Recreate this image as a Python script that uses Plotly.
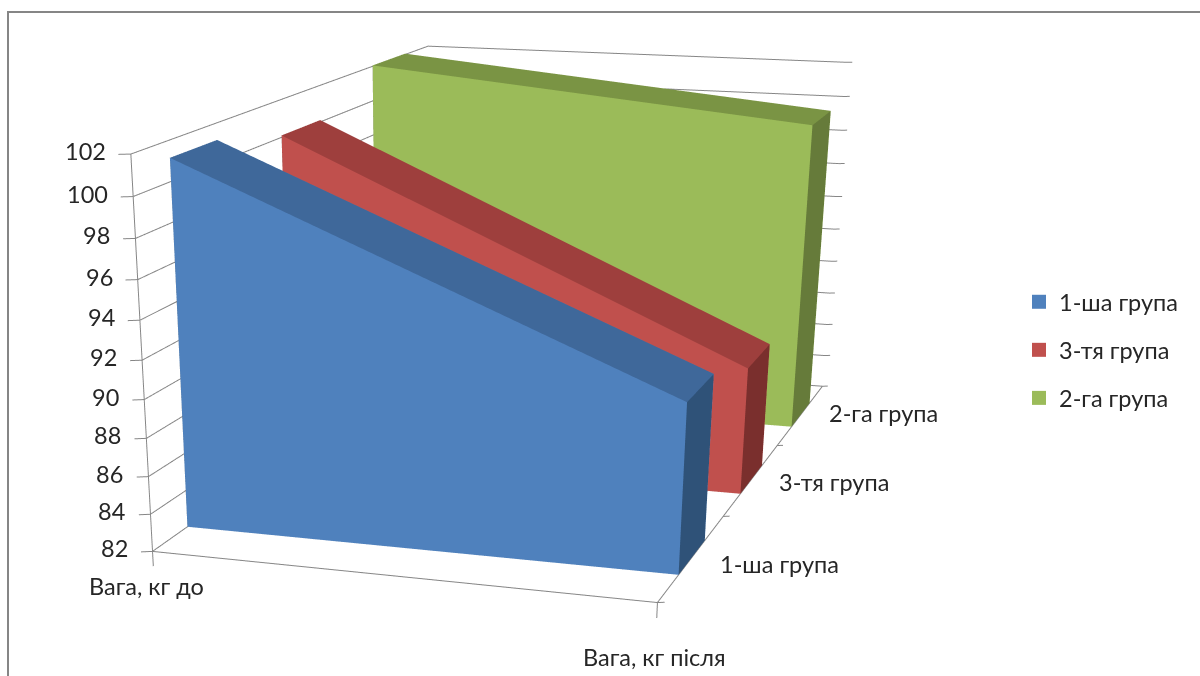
import plotly.graph_objects as go

# Body weight of three groups, before and after
groups = ["1-ша група", "3-тя група", "2-га група"]
categories = ["Вага, кг до", "Вага, кг після"]
weight_before = [101.15, 100.1, 102.05]
weight_after = [90.85, 89.05, 99.75]
z_ticks = list(range(82, 104, 2))

# Front, top and side shades of each group
shades = [
    ("#4F81BD", "#3F689A", "#2F5278"),
    ("#C0504D", "#9E3F3D", "#7A2F2D"),
    ("#9BBB59", "#7A9444", "#667B3A"),
]
AXIS_COLOR = "#868686"
FONT_SIZE = 23.5

# The tall page gives the narrow field of view; only its top part is on screen
PAGE_W, PAGE_H = 1200, 2028
SCENE_W = 860

fig = go.Figure()


def add_lines(xs, ys, zs):
    fig.add_trace(go.Scatter3d(x=xs, y=ys, z=zs, mode="lines",
                               line=dict(color=AXIS_COLOR, width=2),
                               showlegend=False, hoverinfo="skip"))


# Gridlines on the two walls, with their tick marks
gx, gy, gz = [], [], []
for z in z_ticks:
    gx += [-.02, 0, 0, 1, 1.012, None]
    gy += [-.017, 0, 3, 3, 3.01, None]
    gz += [z, z, z, z, z, None]
add_lines(gx, gy, gz)

# Axis lines
add_lines([0, 0, None, 1, 1, None, 0, 1],
          [0, 0, None, 0, 3, None, 0, 0],
          [82, 102, None, 82, 82, None, 82, 82])

# Depth-axis and category-axis tick marks
tx, ty, tz = [], [], []
for k in range(4):
    tx += [1, 1.012, None]
    ty += [k, k + .01, None]
    tz += [82, 82, None]
for xv in (0, 1):
    tx += [xv, xv, None]
    ty += [0, 0, None]
    tz += [82, 81.2, None]
add_lines(tx, ty, tz)

# One solid slab per group, with a swatch-only trace for its legend entry
triangles = [(0, 1, 2), (0, 2, 3), (4, 5, 6), (4, 6, 7), (3, 2, 6), (3, 6, 7),
             (1, 5, 6), (1, 6, 2), (0, 4, 7), (0, 7, 3), (0, 1, 5), (0, 5, 4)]
for n, name in enumerate(groups):
    front, back = n + .3, n + .7
    a, b = weight_before[n], weight_after[n]
    front_c, top_c, side_c = shades[n]
    fig.add_trace(go.Mesh3d(
        x=[0, 1, 1, 0, 0, 1, 1, 0],
        y=[front] * 4 + [back] * 4,
        z=[82, 82, b, a, 82, 82, b, a],
        i=[t[0] for t in triangles],
        j=[t[1] for t in triangles],
        k=[t[2] for t in triangles],
        facecolor=[front_c] * 4 + [top_c] * 2 + [side_c] * 6,
        flatshading=True,
        lighting=dict(ambient=1, diffuse=0, specular=0, fresnel=0),
        showlegend=False, hoverinfo="skip"))
    fig.add_trace(go.Scatter3d(x=[None], y=[None], z=[None], mode="markers",
                               name=name, legendgroup=name,
                               marker=dict(symbol="square", size=14, color=front_c)))

# Axis labels anchored to the data
labels = []
for z in z_ticks:
    labels.append(dict(x=0, y=0, z=z, text=str(z), showarrow=False,
                       xanchor="right", xshift=-23, yshift=3))
for n, name in enumerate(groups):
    labels.append(dict(x=1, y=n + .5, z=82, text=name, showarrow=False,
                       xanchor="left", xshift=26, yshift=[-7, -3, 2][n]))
labels.append(dict(x=0, y=0, z=82, text=categories[0], showarrow=False, yshift=-35, xshift=-6))
labels.append(dict(x=1, y=0, z=82, text=categories[1], showarrow=False, yshift=-54, xshift=-3))
for item in labels:
    item["font"] = dict(size=FONT_SIZE)

hidden = dict(visible=False)
fig.update_layout(
    width=PAGE_W, height=PAGE_H, autosize=False,
    margin=dict(l=0, r=0, t=0, b=0), paper_bgcolor="white",
    font=dict(family="Lato", size=FONT_SIZE, color="#262626"),
    legend=dict(x=1019 / PAGE_W, xanchor="left", y=1 - 280 / PAGE_H, yanchor="top",
                bgcolor="rgba(0,0,0,0)", tracegroupgap=14.5),
    shapes=[dict(type="rect", xref="paper", yref="paper",
                 x0=8 / PAGE_W, x1=(PAGE_W + 20) / PAGE_W, y0=1 - 12 / PAGE_H, y1=-.1,
                 line=dict(color=AXIS_COLOR, width=2))],
    scene=dict(
        domain=dict(x=[0, SCENE_W / PAGE_W], y=[0, 1]),
        aspectmode="manual",
        aspectratio=dict(x=1, y=1.7178, z=0.7996),
        camera=dict(eye=dict(x=1.3045, y=-4.6075, z=0.9615),
                    center=dict(x=0.1201, y=-0.9703, z=-1.0636),
                    up=dict(x=0, y=0, z=1),
                    projection=dict(type="perspective")),
        xaxis=dict(hidden, range=[-.05, 1.05]),
        yaxis=dict(hidden, range=[-.15, 3.15]),
        zaxis=dict(hidden, range=[80, 104]),
        annotations=labels))

fig.write_html("out.html", post_script=(
    "document.documentElement.style.overflow='hidden';"
    "document.body.style.overflow='hidden';"))
